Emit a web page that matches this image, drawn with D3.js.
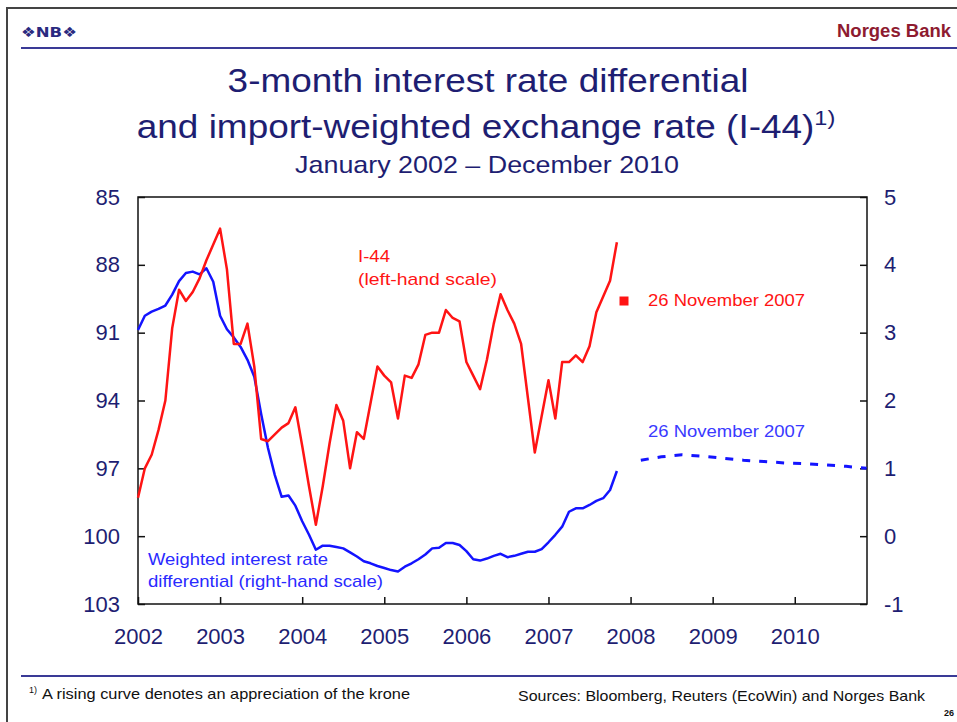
<!DOCTYPE html>
<html>
<head>
<meta charset="utf-8">
<script src="https://cdn.jsdelivr.net/npm/d3@7"></script>
<style>
    body { margin: 0; background: #fff; }
    svg { display: block; font-family: "Liberation Sans", Arial, sans-serif; }
</style>
</head>
<body>
<div id="chart"></div>
<script>

// I-44, monthly Jan 2002 - Nov 2007 (left-hand scale, inverted)
const i44 = [98.3, 97.0, 96.4, 95.3, 94.0, 90.8, 89.1, 89.6, 89.2, 88.6, 87.8, 87.1,
    86.4, 88.2, 91.5, 91.5, 90.6, 92.5, 95.7, 95.8, 95.5, 95.2, 95.0, 94.3,
    96.0, 97.8, 99.5, 97.8, 95.9, 94.2, 94.9, 97.0, 95.4, 95.7, 94.1, 92.5,
    92.9, 93.2, 94.8, 92.9, 93.0, 92.4, 91.1, 91.0, 91.0, 90.0, 90.35, 90.5,
    92.3, 92.9, 93.5, 92.2, 90.6, 89.3, 90.0, 90.6, 91.5, 93.9, 96.3, 94.7,
    93.1, 94.8, 92.3, 92.3, 92.0, 92.3, 91.6, 90.1, 89.4, 88.7, 87.0];

// weighted interest rate differential, monthly Jan 2002 - Nov 2007 (right-hand scale)
const differential = [3.04, 3.25, 3.31, 3.35, 3.40, 3.56, 3.76, 3.88, 3.90, 3.86, 3.95, 3.75,
    3.25, 3.05, 2.93, 2.79, 2.60, 2.35, 1.80, 1.30, 0.90, 0.58, 0.60, 0.45,
    0.22, 0.02, -0.20, -0.14, -0.14, -0.16, -0.18, -0.24, -0.30, -0.37, -0.40, -0.44,
    -0.47, -0.50, -0.52, -0.45, -0.40, -0.34, -0.27, -0.18, -0.17, -0.10, -0.10, -0.13,
    -0.22, -0.34, -0.36, -0.33, -0.29, -0.26, -0.31, -0.29, -0.26, -0.23, -0.23, -0.19,
    -0.09, 0.02, 0.14, 0.36, 0.41, 0.41, 0.46, 0.52, 0.56, 0.68, 0.96];

// forward differential (26 November 2007), quarterly 2008 - 2010
const forwardDates = [2008.125, 2008.375, 2008.625, 2008.875, 2009.125, 2009.375,
    2009.625, 2009.875, 2010.125, 2010.375, 2010.625, 2010.875];
const forwardValues = [1.12, 1.17, 1.20, 1.18, 1.15, 1.12, 1.10, 1.08, 1.07, 1.05, 1.03, 1.00];

// I-44 on 26 November 2007
const i44Marker = {date: 2007.92, value: 89.6};

const years = [2002, 2003, 2004, 2005, 2006, 2007, 2008, 2009, 2010];
const leftTicks = [85, 88, 91, 94, 97, 100, 103];
const rightTicks = [5, 4, 3, 2, 1, 0, -1];

const monthDate = i => 2002 + i / 12;

const navy = "#1e1e72";
const red = "#ff1414";
const blue = "#1414ff";

const W = 957, H = 722;
const plot = {left: 138, right: 867, top: 197, bottom: 604};
const stretch = 1.12; // the slide text is a little wider than the font

const svg = d3.select("#chart").append("svg")
    .attr("width", W)
    .attr("height", H);

// slide frame
svg.append("path")
    .attr("d", `M7,${H} V8 H${W}`)
    .attr("fill", "none")
    .attr("stroke", "#444")
    .attr("stroke-width", 2);

// header
svg.append("text")
    .attr("x", 21).attr("y", 37)
    .attr("font-family", "DejaVu Sans")
    .attr("font-size", 14)
    .attr("font-weight", "bold")
    .attr("fill", "#2a2a80")
    .attr("textLength", 56)
    .attr("lengthAdjust", "spacingAndGlyphs")
    .text("❖NB❖");

svg.append("text")
    .attr("x", 951).attr("y", 37)
    .attr("text-anchor", "end")
    .attr("font-size", 18)
    .attr("font-weight", "bold")
    .attr("fill", "#8e1b30")
    .attr("textLength", 114)
    .attr("lengthAdjust", "spacingAndGlyphs")
    .text("Norges Bank");

svg.append("line")
    .attr("x1", 21).attr("x2", W)
    .attr("y1", 48).attr("y2", 48)
    .attr("stroke", "#3a3a96")
    .attr("stroke-width", 2);

// title
function titleLine(cx, y, size) {
    return svg.append("g")
        .attr("transform", `translate(${cx}, ${y}) scale(${stretch}, 1)`)
        .append("text")
        .attr("text-anchor", "middle")
        .attr("fill", navy)
        .attr("font-size", size);
}

titleLine(488, 92, 33).text("3-month interest rate differential");

let line2 = titleLine(486, 138, 33);
line2.append("tspan").text("and import-weighted exchange rate (I-44)");
line2.append("tspan")
    .attr("font-size", 21)
    .attr("dy", -13)
    .text("1)");

titleLine(487, 173, 24).text("January 2002 \u2013 December 2010");

// scales
const x = d3.scaleLinear()
    .domain([2002, 2010.88])
    .range([plot.left, plot.right]);

const yLeft = d3.scaleLinear()
    .domain([85, 103])
    .range([plot.top, plot.bottom]);

const yRight = d3.scaleLinear()
    .domain([5, -1])
    .range([plot.top, plot.bottom]);

// axes
const xAxis = d3.axisBottom(x)
    .tickValues(years)
    .tickFormat(d3.format("d"))
    .tickSizeInner(-7)
    .tickSizeOuter(0)
    .tickPadding(24);

const leftAxis = d3.axisLeft(yLeft)
    .tickValues(leftTicks)
    .tickSizeInner(-7)
    .tickSizeOuter(0)
    .tickPadding(18);

const rightAxis = d3.axisRight(yRight)
    .tickValues(rightTicks)
    .tickFormat(d => String(d))
    .tickSizeInner(-7)
    .tickSizeOuter(0)
    .tickPadding(17);

function styleAxis(g) {
    g.select(".domain").remove();
    g.selectAll(".tick line").attr("stroke", "#111").attr("stroke-width", 1.5);
    g.selectAll(".tick text")
        .attr("fill", navy)
        .attr("font-size", 22)
        .attr("font-family", "Liberation Sans, Arial, sans-serif");
}

svg.append("g")
    .attr("transform", `translate(0, ${plot.bottom})`)
    .call(xAxis)
    .call(styleAxis);

svg.append("g")
    .attr("transform", `translate(${plot.left}, 0)`)
    .call(leftAxis)
    .call(styleAxis);

svg.append("g")
    .attr("transform", `translate(${plot.right}, 0)`)
    .call(rightAxis)
    .call(styleAxis);

// plot frame
svg.append("rect")
    .attr("x", plot.left).attr("y", plot.top)
    .attr("width", plot.right - plot.left)
    .attr("height", plot.bottom - plot.top)
    .attr("fill", "none")
    .attr("stroke", "#111")
    .attr("stroke-width", 1.5);

// lines
const i44Line = d3.line()
    .x((d, i) => x(monthDate(i)))
    .y(d => yLeft(d));

const diffLine = d3.line()
    .x((d, i) => x(monthDate(i)))
    .y(d => yRight(d));

const forwardLine = d3.line()
    .x((d, i) => x(forwardDates[i]))
    .y(d => yRight(d));

svg.append("path")
    .datum(differential)
    .attr("d", diffLine)
    .attr("fill", "none")
    .attr("stroke", blue)
    .attr("stroke-width", 2.5)
    .attr("stroke-linejoin", "round");

svg.append("path")
    .datum(i44)
    .attr("d", i44Line)
    .attr("fill", "none")
    .attr("stroke", red)
    .attr("stroke-width", 2.5)
    .attr("stroke-linejoin", "round");

svg.append("path")
    .datum(forwardValues)
    .attr("d", forwardLine)
    .attr("fill", "none")
    .attr("stroke", blue)
    .attr("stroke-width", 3)
    .attr("stroke-dasharray", "8,9");

// marker for I-44 on 26 Nov 2007
svg.append("rect")
    .attr("x", x(i44Marker.date) - 4.5)
    .attr("y", yLeft(i44Marker.value) - 4.5)
    .attr("width", 9)
    .attr("height", 9)
    .attr("fill", red);

// series labels
function label(x0, y0, color, txt, len) {
    svg.append("text")
        .attr("x", x0).attr("y", y0)
        .attr("font-size", 17)
        .attr("fill", color)
        .attr("textLength", len)
        .attr("lengthAdjust", "spacingAndGlyphs")
        .text(txt);
}

label(358, 262, red, "I-44", 32);
label(358, 285, red, "(left-hand scale)", 139);
label(648, 306, red, "26 November 2007", 157);
label(648, 437, "#3a3aff", "26 November 2007", 157);
label(148, 565, "#2a2aff", "Weighted interest rate", 180);
label(148, 587, "#2a2aff", "differential (right-hand scale)", 235);

// footer
svg.append("line")
    .attr("x1", 21).attr("x2", W)
    .attr("y1", 676).attr("y2", 676)
    .attr("stroke", "#3a3a96")
    .attr("stroke-width", 2);

svg.append("text")
    .attr("x", 29).attr("y", 693)
    .attr("font-size", 9)
    .attr("fill", "#111")
    .text("1)");

svg.append("text")
    .attr("x", 42).attr("y", 699)
    .attr("font-size", 14.5)
    .attr("fill", "#111")
    .attr("textLength", 368)
    .attr("lengthAdjust", "spacingAndGlyphs")
    .text("A rising curve denotes an appreciation of the krone");

svg.append("text")
    .attr("x", 518).attr("y", 701)
    .attr("font-size", 15)
    .attr("fill", "#111")
    .attr("textLength", 407)
    .attr("lengthAdjust", "spacingAndGlyphs")
    .text("Sources: Bloomberg, Reuters (EcoWin) and Norges Bank");

svg.append("text")
    .attr("x", 944).attr("y", 716)
    .attr("font-size", 9)
    .attr("font-weight", "bold")
    .attr("fill", "#111")
    .text("26");

</script>
</body>
</html>
